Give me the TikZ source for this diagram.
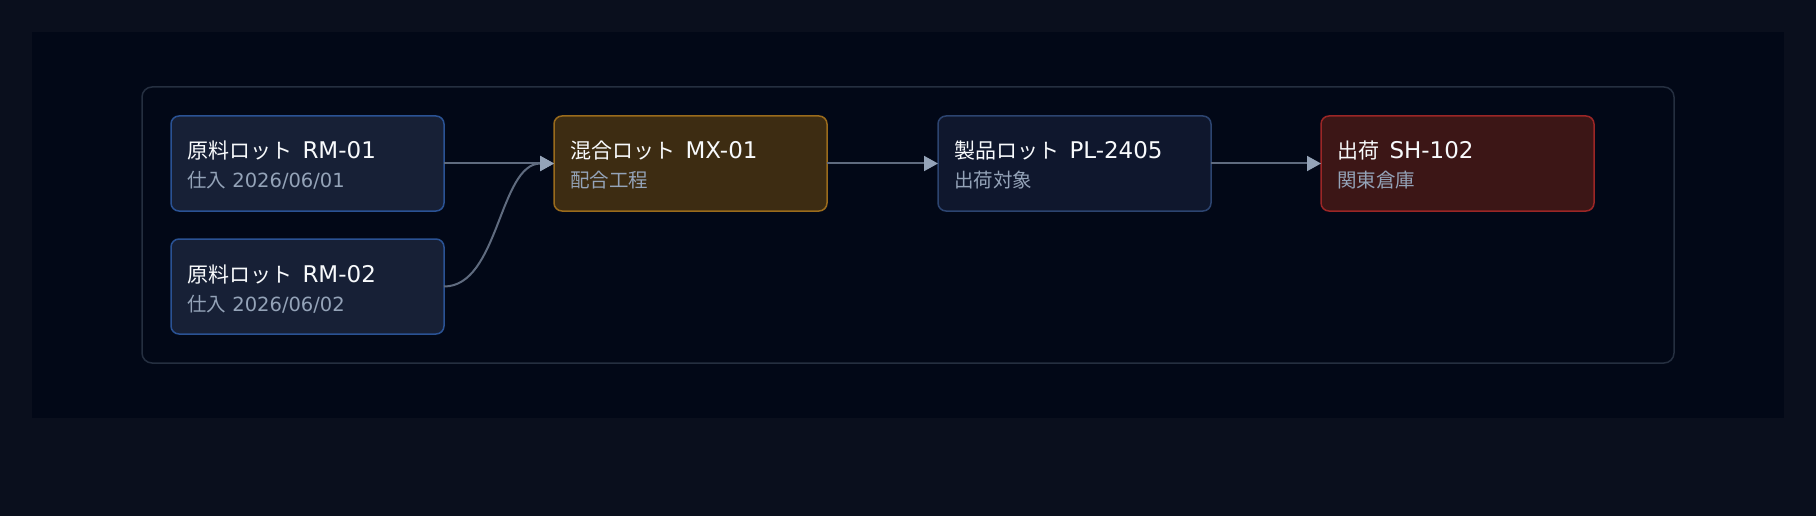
\documentclass[tikz,border=0pt]{standalone}
\usepackage{fontspec}
\setmainfont{DejaVu Sans}
\newfontfamily\jpfont{Noto Sans CJK JP}
\newcommand\jpT[1]{{\jpfont\fontsize{21}{26}\selectfont #1}\hspace{3pt}}
\newcommand\jpS[1]{{\jpfont\fontsize{19.5}{23}\selectfont #1}}
\usetikzlibrary{arrows.meta}
\definecolor{outerbg}{HTML}{0A0F1D}
\definecolor{innerbg}{HTML}{020817}
\definecolor{framec}{HTML}{252F40}
\definecolor{rmfill}{HTML}{172036}
\definecolor{rmdraw}{HTML}{2A5294}
\definecolor{mxfill}{HTML}{3D2C12}
\definecolor{mxdraw}{HTML}{9A6B1C}
\definecolor{plfill}{HTML}{0F172D}
\definecolor{pldraw}{HTML}{2C4470}
\definecolor{shfill}{HTML}{3C1616}
\definecolor{shdraw}{HTML}{9B2626}
\definecolor{titlec}{HTML}{F8FAFC}
\definecolor{subc}{HTML}{94A3B8}
\definecolor{edgec}{HTML}{5F6B7F}
\definecolor{tipc}{HTML}{94A3B8}
\tikzset{
  lotbox/.style={rectangle, rounded corners=8pt, line width=1.5pt, minimum width=273pt, minimum height=95pt, inner sep=0pt, outer sep=0pt, anchor=north west},
  ttl/.style={anchor=base west, inner sep=0pt, text=titlec, font=\fontsize{23}{27}\selectfont},
  sub/.style={anchor=base west, inner sep=0pt, text=subc, font=\fontsize{19.5}{23}\selectfont},
  flow/.style={draw=edgec, line width=2pt, -{Triangle[length=14pt, width=15pt, color=tipc]}}
}
\begin{document}
\begin{tikzpicture}[x=1pt,y=-1pt]
\useasboundingbox (0,0) rectangle (1816,516);
\fill[outerbg] (0,0) rectangle (1816,516);
\fill[innerbg] (32,32) rectangle (1784,418);
\draw[framec, line width=1.5pt, rounded corners=10pt, fill=innerbg] (142,87) rectangle (1674,363);

\node[lotbox, fill=rmfill, draw=rmdraw] (rm1) at (171,116) {};
\node[lotbox, fill=rmfill, draw=rmdraw] (rm2) at (171,239) {};
\node[lotbox, fill=mxfill, draw=mxdraw] (mx) at (554,116) {};
\node[lotbox, fill=plfill, draw=pldraw] (pl) at (938,116) {};
\node[lotbox, fill=shfill, draw=shdraw] (sh) at (1321,116) {};

\node[ttl] (rm1t) at ([xshift=16pt,yshift=-43pt]rm1.north west) {\jpT{原料ロット} RM-01};
\node[sub] (rm1s) at ([xshift=16pt,yshift=-72pt]rm1.north west) {\jpS{仕入} 2026/06/01};
\node[ttl] (rm2t) at ([xshift=16pt,yshift=-43pt]rm2.north west) {\jpT{原料ロット} RM-02};
\node[sub] (rm2s) at ([xshift=16pt,yshift=-72pt]rm2.north west) {\jpS{仕入} 2026/06/02};
\node[ttl] (mxt) at ([xshift=16pt,yshift=-43pt]mx.north west) {\jpT{混合ロット} MX-01};
\node[sub] (mxs) at ([xshift=16pt,yshift=-72pt]mx.north west) {\jpS{配合工程}};
\node[ttl] (plt) at ([xshift=16pt,yshift=-43pt]pl.north west) {\jpT{製品ロット} PL-2405};
\node[sub] (pls) at ([xshift=16pt,yshift=-72pt]pl.north west) {\jpS{出荷対象}};
\node[ttl] (sht) at ([xshift=16pt,yshift=-43pt]sh.north west) {\jpT{出荷} SH-102};
\node[sub] (shs) at ([xshift=16pt,yshift=-72pt]sh.north west) {\jpS{関東倉庫}};

\draw[flow] (rm1.east) -- (mx.west);
\draw[flow] (rm2.east) .. controls +(55,0) and +(-55,0) .. (mx.west);
\draw[flow] (mx.east) -- (pl.west);
\draw[flow] (pl.east) -- (sh.west);
\end{tikzpicture}
\end{document}
